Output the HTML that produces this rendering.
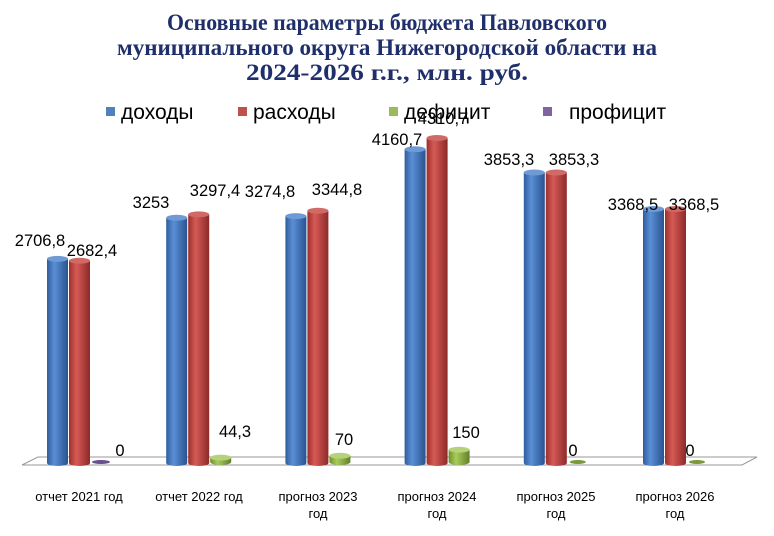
<!DOCTYPE html>
<html><head><meta charset="utf-8"><style>
html,body{margin:0;padding:0;background:#fff;width:774px;height:536px;overflow:hidden}
svg text{font-family:"Liberation Sans","DejaVu Sans",sans-serif}
svg text.t{font-family:"Liberation Serif",serif;font-weight:bold}
</style></head><body>
<svg id="s" width="774" height="536" viewBox="0 0 774 536" xmlns="http://www.w3.org/2000/svg">
<defs>
<linearGradient id="gb" x1="0" x2="1"><stop offset="0" stop-color="#2f5d9c"/><stop offset="0.35" stop-color="#5a8fd6"/><stop offset="1" stop-color="#2a5290"/></linearGradient>
<linearGradient id="gr" x1="0" x2="1"><stop offset="0" stop-color="#9c2f2c"/><stop offset="0.35" stop-color="#d65a56"/><stop offset="1" stop-color="#8c2a28"/></linearGradient>
<linearGradient id="gg" x1="0" x2="1"><stop offset="0" stop-color="#6f8f2c"/><stop offset="0.35" stop-color="#a8cc5a"/><stop offset="1" stop-color="#62802a"/></linearGradient>
</defs>
<g fill="#1f2f6b" font-size="23" text-anchor="middle">
<text class="t" x="387" y="30" textLength="440" lengthAdjust="spacingAndGlyphs">Основные параметры бюджета Павловского</text>
<text class="t" x="387" y="55" textLength="540" lengthAdjust="spacingAndGlyphs">муниципального округа Нижегородской области на</text>
<text class="t" x="387" y="80" textLength="282" lengthAdjust="spacingAndGlyphs">2024-2026 г.г., млн. руб.</text>
</g>
<g font-size="21" fill="#000">
<rect x="106" y="107" width="9" height="9" fill="#4f81bd"/><text x="121" y="119">доходы</text>
<rect x="238" y="107" width="9" height="9" fill="#c0504d"/><text x="253" y="119">расходы</text>
<rect x="389" y="107" width="9" height="9" fill="#9bbb59"/><text x="404" y="119">дефицит</text>
<rect x="543" y="107" width="9" height="9" fill="#8064a2"/><text x="569" y="119">профицит</text>
</g>
<polygon points="38,457 757,457 742,465 22,465" fill="#fff" stroke="#999" stroke-width="1"/>
<g id="bars"></g>
<g id="lbl" font-size="16.5" fill="#000" text-anchor="middle"></g>
<g font-size="13" fill="#000" text-anchor="middle">
<text x="79" y="501">отчет 2021 год</text>
<text x="199" y="501">отчет 2022 год</text>
<text x="318" y="501">прогноз 2023</text><text x="318" y="518">год</text>
<text x="437" y="501">прогноз 2024</text><text x="437" y="518">год</text>
<text x="556" y="501">прогноз 2025</text><text x="556" y="518">год</text>
<text x="675" y="501">прогноз 2026</text><text x="675" y="518">год</text>
</g>
</svg>
<script>
var NS="http://www.w3.org/2000/svg",b=document.getElementById("bars"),L=document.getElementById("lbl");
function el(t,a,p){var e=document.createElementNS(NS,t);for(var k in a)e.setAttribute(k,a[k]);p.appendChild(e);return e;}
function cyl(x,w,top,bot,g,c){
 el("path",{d:"M"+x+","+top+" L"+x+","+bot+" A"+(w/2)+",3 0 0 0 "+(x+w)+","+bot+" L"+(x+w)+","+top+" Z",fill:"url(#"+g+")"},b);
 el("ellipse",{cx:x+w/2,cy:top,rx:w/2,ry:3,fill:c},b);
}
var inc=[2706.8,3253,3274.8,4160.7,3853.3,3368.5],exp=[2682.4,3297.4,3344.8,4310.7,3853.3,3368.5],def=[0,44.3,70,150,0,0];
var k=0.0754,base=463;
for(var i=0;i<6;i++){
 var x=47+i*119.2;
 cyl(x,21,base-inc[i]*k,base,"gb","#6f9ad6");
 cyl(x+22,21,base-exp[i]*k,base,"gr","#cf6a66");
 if(def[i]>0) cyl(x+44,21,base-2-def[i]*k,base-1,"gg","#b5d27a");
 else el("ellipse",{cx:x+54,cy:base-1,rx:i==0?9:8,ry:2,fill:i==0?"#6a4f8f":"#7a9a3a"},b);
}
var labs=[["2706,8",40,246],["2682,4",92,256],["3253",151,208],["3297,4",215,196],["3274,8",270,197],["3344,8",337,195],["4160,7",397,145],["4310,7",443,124],["3853,3",509,165],["3853,3",574,165],["3368,5",633,210],["3368,5",694,210],["0",120,456],["44,3",235,437],["70",344,445],["150",466,438],["0",573,456],["0",690,456]];
labs.forEach(function(l){var t=el("text",{x:l[1],y:l[2]},L);t.textContent=l[0];});
</script>
</body></html>
